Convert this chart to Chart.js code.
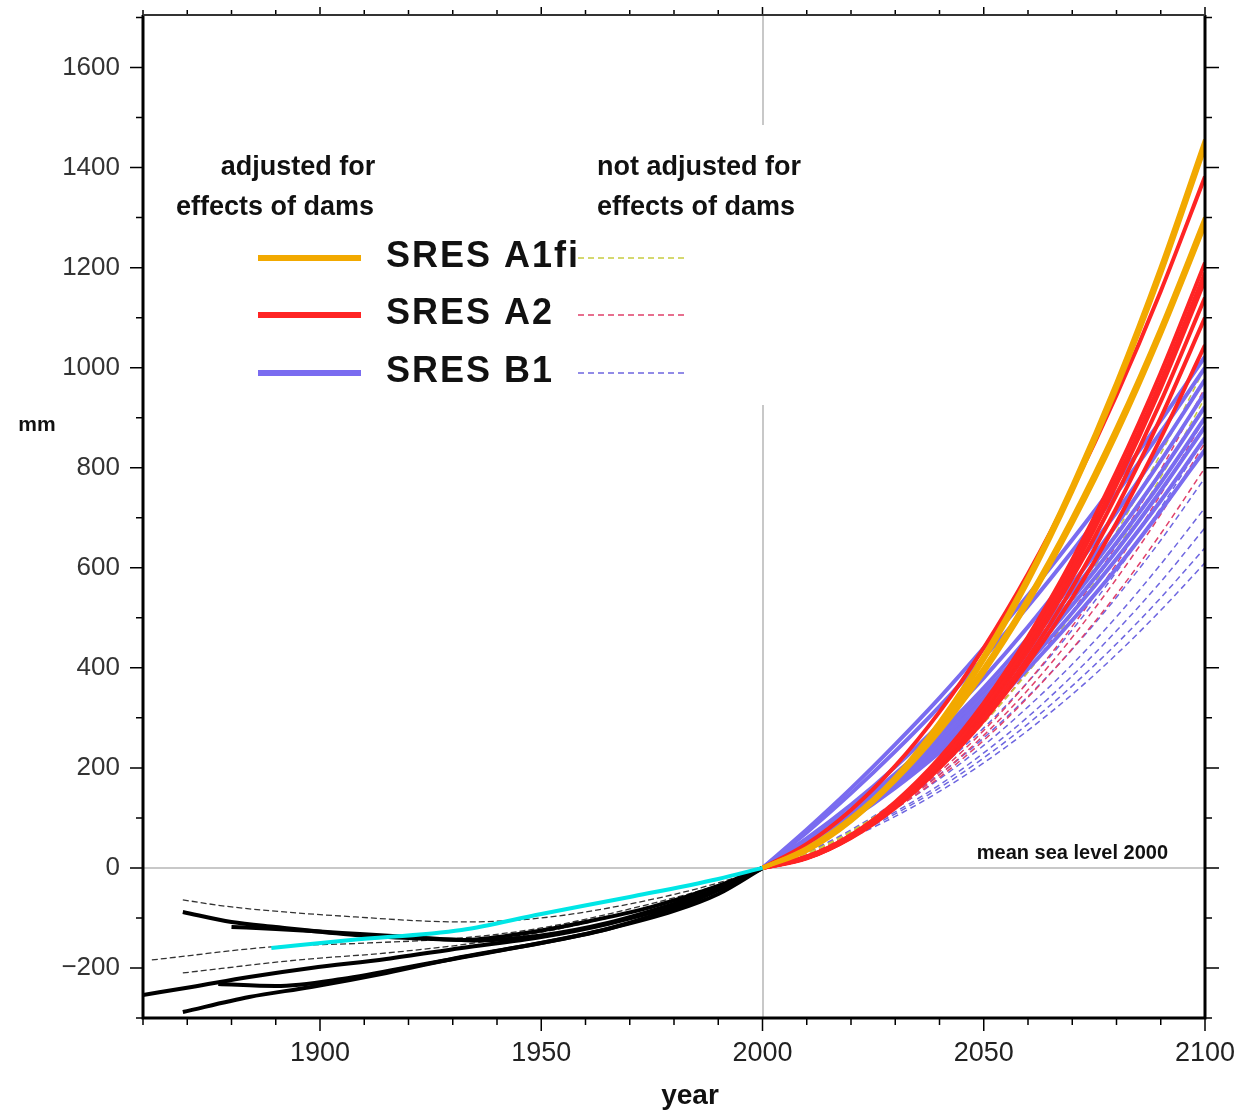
<!DOCTYPE html>
<html>
<head>
<meta charset="utf-8">
<script src="https://cdn.jsdelivr.net/npm/chart.js@4.4.1/dist/chart.umd.min.js"></script>
<style>
  html, body { margin: 0; padding: 0; background: #fff; }
  #wrap { width: 1253px; height: 1110px; position: relative; }
</style>
</head>
<body>
<div id="wrap"><canvas id="seaChart"></canvas></div>
<script>
// axis ticks
const xTicks = [1900, 1950, 2000, 2050, 2100];
const yTicks = [-200, 0, 200, 400, 600, 800, 1000, 1200, 1400, 1600];

// projections, one value per decade from 2000
const futureYears = [2000, 2010, 2020, 2030, 2040, 2050, 2060, 2070, 2080, 2090, 2100];

const a1fiAdjusted = [
  [0, 37, 97, 182, 292, 425, 582, 765, 971, 1202, 1456],
  [0, 34, 93, 176, 283, 415, 571, 752, 957, 1186, 1440],
  [0, 40, 100, 180, 280, 400, 540, 700, 880, 1080, 1300],
  [0, 38, 95, 174, 272, 390, 529, 688, 866, 1066, 1285]
];
const a2Adjusted = [
  [0, 48, 116, 204, 312, 440, 588, 757, 945, 1153, 1382],
  [0, 22, 66, 132, 220, 330, 462, 616, 792, 990, 1210],
  [0, 20, 62, 126, 212, 320, 450, 602, 776, 972, 1190],
  [0, 19, 61, 124, 208, 315, 443, 594, 766, 959, 1175],
  [0, 20, 62, 124, 206, 310, 434, 580, 746, 932, 1140],
  [0, 20, 60, 120, 200, 300, 420, 560, 720, 900, 1100],
  [0, 23, 63, 123, 200, 295, 409, 540, 690, 859, 1045]
];
const b1Adjusted = [
  [0, 77, 159, 247, 340, 440, 545, 656, 772, 894, 1022],
  [0, 71, 149, 233, 323, 420, 523, 633, 749, 871, 1000],
  [0, 59, 126, 202, 287, 380, 482, 593, 711, 840, 976],
  [0, 54, 116, 188, 270, 360, 460, 568, 686, 814, 950],
  [0, 52, 113, 183, 262, 350, 447, 553, 666, 790, 922],
  [0, 50, 110, 178, 254, 340, 434, 538, 650, 770, 900],
  [0, 48, 105, 171, 246, 330, 423, 525, 634, 754, 882],
  [0, 46, 102, 166, 238, 320, 410, 510, 618, 734, 860],
  [0, 45, 98, 160, 231, 310, 398, 495, 599, 714, 836]
];

const a1fiRaw = [
  [0, 28, 72, 132, 208, 300, 408, 532, 672, 828, 1000],
  [0, 29, 73, 131, 203, 290, 391, 507, 637, 781, 940]
];
const a2Raw = [
  [0, 28, 70, 128, 202, 290, 394, 512, 646, 796, 960],
  [0, 27, 68, 123, 192, 275, 372, 483, 608, 747, 900],
  [0, 27, 68, 121, 186, 265, 356, 461, 578, 707, 850],
  [0, 28, 67, 118, 181, 255, 341, 438, 547, 668, 800]
];
const b1Raw = [
  [0, 32, 76, 132, 200, 280, 372, 476, 592, 720, 860],
  [0, 31, 73, 125, 187, 260, 343, 437, 541, 655, 780],
  [0, 31, 70, 119, 178, 245, 322, 407, 502, 607, 720],
  [0, 28, 66, 112, 166, 230, 302, 384, 474, 572, 680],
  [0, 28, 64, 108, 160, 220, 288, 364, 448, 540, 640],
  [0, 27, 61, 103, 153, 210, 275, 347, 427, 515, 610]
];

// reconstructions of the past
const pastSolidYears = [
  [1869, 1880, 1890, 1908, 1920, 1932, 1945, 1960, 1975, 1990, 2000],
  [1880, 1890, 1905, 1920, 1935, 1950, 1965, 1980, 1990, 2000],
  [1860, 1871, 1884, 1898, 1915, 1932, 1950, 1965, 1980, 1990, 2000],
  [1869, 1884, 1898, 1915, 1932, 1950, 1965, 1980, 1990, 2000],
  [1877, 1890, 1905, 1925, 1945, 1965, 1985, 2000]
];
const pastSolidValues = [
  [-88, -108, -118, -134, -140, -144, -132, -108, -78, -36, 0],
  [-118, -122, -130, -138, -145, -135, -110, -72, -42, 0],
  [-254, -238, -218, -200, -182, -160, -138, -112, -76, -44, 0],
  [-288, -258, -238, -210, -178, -150, -122, -86, -52, 0],
  [-232, -236, -222, -190, -158, -122, -64, 0]
];
const pastDashedYears = [
  [1869, 1880, 1908, 1932, 1950, 1970, 1990, 2000],
  [1862, 1889, 1911, 1932, 1950, 1970, 1990, 2000],
  [1869, 1895, 1915, 1935, 1955, 1975, 1990, 2000]
];
const pastDashedValues = [
  [-64, -78, -98, -108, -100, -72, -30, 0],
  [-184, -158, -150, -140, -120, -82, -34, 0],
  [-210, -184, -170, -150, -120, -78, -40, 0]
];
const cyanYears = [1889, 1907, 1932, 1950, 1970, 1990, 2000];
const cyanValues = [-160, -144, -124, -92, -58, -22, 0];

const scenarioNames = ['SRES A1fi', 'SRES A2', 'SRES B1'];
const solidColors = ['#f2a900', '#ff2424', '#7a6cf0'];
const dashColors = ['#c8cc40', '#e0406a', '#6e66e0'];

const FONT = '"Liberation Sans", Arial, Helvetica, sans-serif';

const datasets = [];
function addLine(years, vals, color, width, dash, order) {
  datasets.push({
    data: years.map((yr, i) => ({ x: yr, y: vals[i] })),
    borderColor: color,
    borderWidth: width,
    borderDash: dash,
    pointRadius: 0,
    fill: false,
    order: order,
    cubicInterpolationMode: 'monotone'
  });
}

pastSolidValues.forEach((v, i) => addLine(pastSolidYears[i], v, '#000', 4, [], 6));
pastDashedValues.forEach((v, i) => addLine(pastDashedYears[i], v, '#333', 1.3, [6, 3], 7));
addLine(cyanYears, cyanValues, '#00e6e6', 4, [], 0);

a1fiRaw.forEach(v => addLine(futureYears, v, dashColors[0], 1.5, [6, 4], 5));
a2Raw.forEach(v => addLine(futureYears, v, dashColors[1], 1.5, [6, 4], 5));
b1Raw.forEach(v => addLine(futureYears, v, dashColors[2], 1.5, [6, 4], 5));
b1Adjusted.forEach(v => addLine(futureYears, v, solidColors[2], 4, [], 4));
a2Adjusted.forEach(v => addLine(futureYears, v, solidColors[1], 4, [], 3));
a1fiAdjusted.forEach(v => addLine(futureYears, v, solidColors[0], 4, [], 2));

const framePlugin = {
  id: 'frame',
  afterDatasetsDraw(chart) {
    const ctx = chart.ctx;
    ctx.save();
    // legend box
    ctx.fillStyle = '#fff';
    ctx.fillRect(150, 125, 680, 280);
    ctx.fillStyle = '#111';
    ctx.font = 'bold 27px ' + FONT;
    ctx.textBaseline = 'middle';
    ctx.textAlign = 'center';
    ctx.fillText('adjusted for', 298, 168);
    ctx.fillText('effects of dams', 275, 208);
    ctx.textAlign = 'left';
    ctx.fillText('not adjusted for', 597, 168);
    ctx.fillText('effects of dams', 597, 208);
    const rows = [258, 315, 373];
    ctx.font = 'bold 36px ' + FONT;
    ctx.letterSpacing = '2px';
    scenarioNames.forEach((name, i) => {
      const yy = rows[i];
      ctx.setLineDash([]);
      ctx.strokeStyle = solidColors[i];
      ctx.lineWidth = 6;
      ctx.beginPath(); ctx.moveTo(258, yy); ctx.lineTo(361, yy); ctx.stroke();
      ctx.strokeStyle = dashColors[i];
      ctx.lineWidth = 1.5;
      ctx.setLineDash([6, 4]);
      ctx.beginPath(); ctx.moveTo(578, yy); ctx.lineTo(688, yy); ctx.stroke();
      ctx.fillStyle = '#111';
      ctx.fillText(name, 386, yy - 1);
    });
    ctx.restore();
  },
  afterDraw(chart) {
    const { ctx, chartArea: { left, right, top, bottom }, scales: { x, y } } = chart;
    ctx.save();
    ctx.setLineDash([]);
    ctx.strokeStyle = '#000';
    ctx.lineWidth = 1.5;
    for (let yr = 1860; yr <= 2100; yr += 10) {
      const px = x.getPixelForValue(yr);
      const major = yr % 50 === 0;
      ctx.beginPath();
      ctx.moveTo(px, bottom); ctx.lineTo(px, bottom + (major ? 13 : 7));
      ctx.moveTo(px, top); ctx.lineTo(px, top - (major ? 8 : 5));
      ctx.stroke();
    }
    for (let v = -300; v <= 1700; v += 100) {
      const py = y.getPixelForValue(v);
      const major = v % 200 === 0;
      ctx.beginPath();
      ctx.moveTo(left, py); ctx.lineTo(left - (major ? 13 : 7), py);
      ctx.moveTo(right, py); ctx.lineTo(right + (major ? 14 : 7), py);
      ctx.stroke();
    }
    ctx.lineWidth = 3;
    ctx.beginPath();
    ctx.moveTo(left, top); ctx.lineTo(left, bottom); ctx.lineTo(right, bottom); ctx.lineTo(right, top);
    ctx.stroke();
    ctx.lineWidth = 2;
    ctx.strokeStyle = '#333';
    ctx.beginPath(); ctx.moveTo(left, top); ctx.lineTo(right, top); ctx.stroke();

    ctx.fillStyle = '#111';
    ctx.textBaseline = 'middle';
    ctx.font = 'bold 20px ' + FONT;
    ctx.textAlign = 'right';
    ctx.fillText('mean sea level 2000', 1168, 853);
    ctx.textAlign = 'center';
    ctx.font = 'bold 21px ' + FONT;
    ctx.fillText('mm', 37, 425);
    ctx.font = 'bold 28px ' + FONT;
    ctx.fillText('year', 690, 1096);
    ctx.restore();
  }
};

new Chart(document.getElementById('seaChart'), {
  type: 'line',
  data: { datasets: datasets },
  options: {
    responsive: true,
    maintainAspectRatio: false,
    animation: false,
    layout: { padding: { left: 0, right: 48, top: 15, bottom: 0 } },
    plugins: { legend: { display: false }, tooltip: { enabled: false } },
    scales: {
      x: {
        type: 'linear',
        min: 1860,
        max: 2100,
        afterFit: s => { s.height = 92; s.paddingLeft = 0; s.paddingRight = 0; },
        afterBuildTicks: s => { s.ticks = xTicks.map(v => ({ value: v })); },
        grid: {
          drawTicks: false,
          color: c => (c.tick && c.tick.value === 2000 ? '#c8c8c8' : 'rgba(0,0,0,0)'),
          lineWidth: 2
        },
        border: { display: false },
        ticks: {
          padding: 19,
          color: '#222',
          font: { family: FONT, size: 27 },
          callback: v => String(v)
        }
      },
      y: {
        type: 'linear',
        min: -300,
        max: 1705,
        afterFit: s => { s.width = 143; s.paddingTop = 0; s.paddingBottom = 0; },
        afterBuildTicks: s => { s.ticks = yTicks.map(v => ({ value: v })); },
        grid: {
          drawTicks: false,
          color: c => (c.tick && c.tick.value === 0 ? '#c8c8c8' : 'rgba(0,0,0,0)'),
          lineWidth: 2
        },
        border: { display: false },
        ticks: {
          padding: 23,
          color: '#333',
          font: { family: FONT, size: 26 },
          callback: v => (v < 0 ? '\u2212' + Math.abs(v) : String(v))
        }
      }
    }
  },
  plugins: [framePlugin]
});
</script>
</body>
</html>
